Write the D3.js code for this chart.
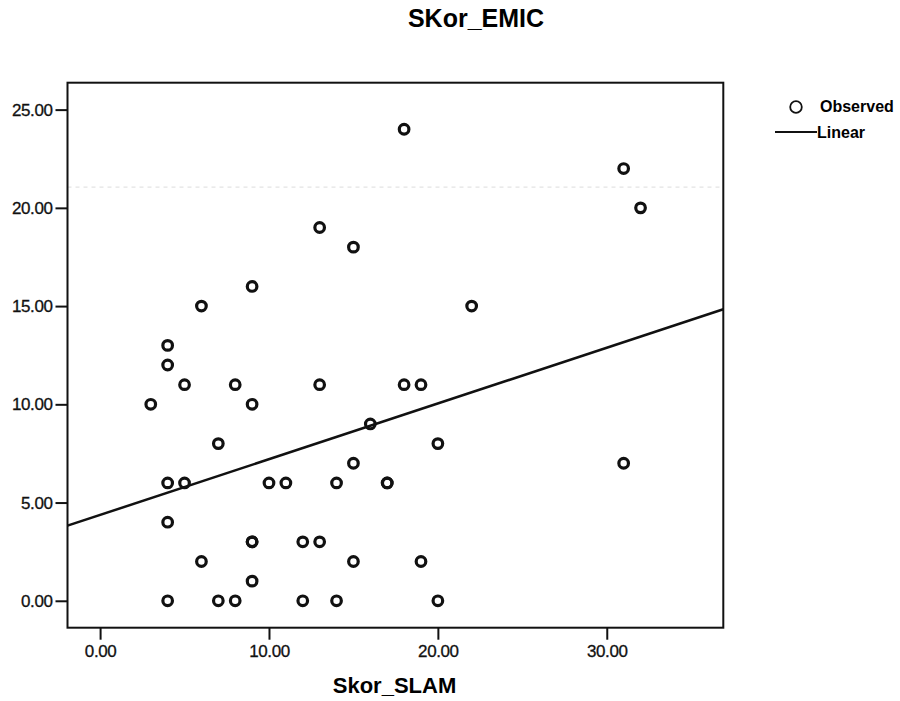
<!DOCTYPE html>
<meta charset="utf-8">
<style>
  body { margin: 0; background: #fff; }
  svg { font-family: "Liberation Sans", Arial, sans-serif; }
</style>
<svg width="900" height="701"></svg>
<script src="https://cdn.jsdelivr.net/npm/d3@7"></script>
<script>
// observed points (Skor_SLAM, SKor_EMIC)
var slam = [18, 31, 32, 13, 15, 9, 6, 22, 4, 4, 5, 8, 13, 18, 19, 3, 9, 16, 7, 20, 15, 31,
            4, 5, 10, 11, 14, 17, 17, 4, 9, 9, 12, 13, 6, 15, 19, 9, 4, 7, 8, 12, 14, 20];
var emic = [24, 22, 20, 19, 18, 16, 15, 15, 13, 12, 11, 11, 11, 11, 11, 10, 10, 9, 8, 8, 7, 7,
            6, 6, 6, 6, 6, 6, 6, 4, 3, 3, 3, 3, 2, 2, 2, 1, 0, 0, 0, 0, 0, 0];
// linear fit
var fitIntercept = 4.37;
var fitSlope = 0.2837;
var xTicks = [0, 10, 20, 30];
var yTicks = [0, 5, 10, 15, 20, 25];

var svg = d3.select("svg");
var plotL = 67.5, plotR = 723.3, plotT = 82.7, plotB = 627.7;

var x = d3.scaleLinear().domain([-1.93, 36.9]).range([plotL, plotR]);
var y = d3.scaleLinear().domain([-1.37, 26.37]).range([plotB, plotT]);

// title
svg.append("text")
    .attr("x", 476).attr("y", 27)
    .attr("text-anchor", "middle")
    .style("font-size", "25px").style("font-weight", "bold")
    .text("SKor_EMIC");

// faint scan line
svg.append("line")
    .attr("x1", plotL).attr("x2", plotR)
    .attr("y1", y(21.05)).attr("y2", y(21.05))
    .attr("stroke", "#e4e4e4").attr("stroke-width", 1.2)
    .attr("stroke-dasharray", "4,4");

// axes
var yAxis = svg.append("g")
    .attr("transform", "translate(" + plotL + ",0)")
    .call(d3.axisLeft(y).tickValues(yTicks).tickFormat(d3.format(".2f"))
        .tickSize(12).tickPadding(3));
var xAxis = svg.append("g")
    .attr("transform", "translate(0," + plotB + ")")
    .call(d3.axisBottom(x).tickValues(xTicks).tickFormat(d3.format(".2f"))
        .tickSize(12).tickPadding(5));
[xAxis, yAxis].forEach(function(g) {
    g.select(".domain").remove();
    g.selectAll(".tick line").attr("stroke", "#111").attr("stroke-width", 2);
    g.selectAll(".tick text")
        .attr("fill", "#111")
        .attr("stroke", "#111").attr("stroke-width", 0.3)
        .style("font-size", "17px")
        .style("font-family", "'Liberation Sans', Arial, sans-serif")
        .style("letter-spacing", "-0.4px");
});

// frame
svg.append("rect")
    .attr("x", plotL).attr("y", plotT)
    .attr("width", plotR - plotL).attr("height", plotB - plotT)
    .attr("fill", "none").attr("stroke", "#111").attr("stroke-width", 2);

// regression line
svg.append("line")
    .attr("x1", x(x.domain()[0])).attr("y1", y(fitIntercept + fitSlope * x.domain()[0]))
    .attr("x2", x(x.domain()[1])).attr("y2", y(fitIntercept + fitSlope * x.domain()[1]))
    .attr("stroke", "#111").attr("stroke-width", 2.5);

// points
svg.append("g").selectAll("circle")
    .data(slam)
    .enter().append("circle")
    .attr("cx", function(d) { return x(d); })
    .attr("cy", function(d, i) { return y(emic[i]); })
    .attr("r", 4.8)
    .attr("fill", "none")
    .attr("stroke", "#111")
    .attr("stroke-width", 3.2);

// x label
svg.append("text")
    .attr("x", 394.5).attr("y", 693)
    .attr("text-anchor", "middle")
    .style("font-size", "22px").style("font-weight", "bold")
    .text("Skor_SLAM");

// legend
svg.append("circle")
    .attr("cx", 796).attr("cy", 107)
    .attr("r", 5.8)
    .attr("fill", "none").attr("stroke", "#111").attr("stroke-width", 1.8);
svg.append("text")
    .attr("x", 820).attr("y", 112)
    .style("font-size", "16px").style("font-weight", "bold")
    .text("Observed");
svg.append("line")
    .attr("x1", 775).attr("x2", 817)
    .attr("y1", 132).attr("y2", 132)
    .attr("stroke", "#111").attr("stroke-width", 1.8);
svg.append("text")
    .attr("x", 817).attr("y", 138)
    .style("font-size", "16px").style("font-weight", "bold")
    .text("Linear");
</script>
